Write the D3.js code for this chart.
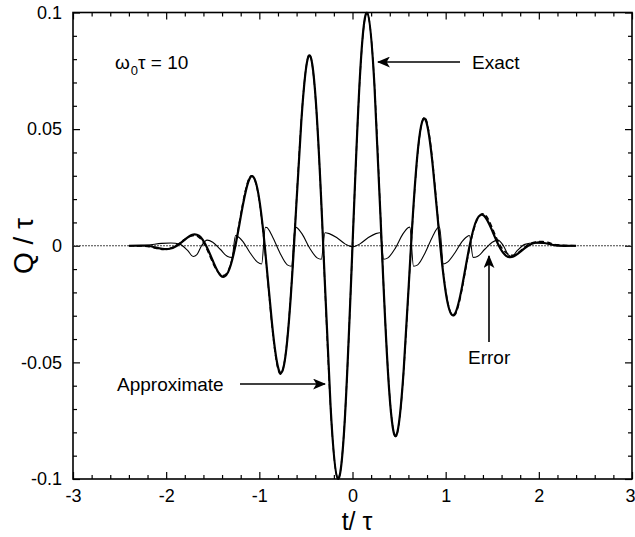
<!DOCTYPE html>
<html><head><meta charset="utf-8">
<script src="https://cdn.jsdelivr.net/npm/d3@7"></script>
<style>
body{margin:0;background:#fff}
text{font-family:"Liberation Sans",Arial,Helvetica,sans-serif;fill:#000}
</style>
</head><body>
<svg id="c" width="635" height="537"></svg>
<script>
// ---- data ----
const xMajorTicks = [-3, -2, -1, 0, 1, 2, 3];
const yMajorTicks = [-0.1, -0.05, 0, 0.05, 0.1];
const xTickLabels = ["-3", "-2", "-1", "0", "1", "2", "3"];
const yTickLabels = ["-0.1", "-0.05", "0", "0.05", "0.1"];

const tExact = [-2.4, -2.199, -2.121, -2.042, -1.963, -1.885, -1.806, -1.728, -1.649, -1.571, -1.492, -1.414, -1.335, -1.257, -1.178, -1.100, -1.021, -0.942, -0.864, -0.785, -0.707, -0.628, -0.550, -0.471, -0.393, -0.314, -0.236, -0.157, -0.079, 0, 0.079, 0.157, 0.236, 0.314, 0.393, 0.471, 0.550, 0.628, 0.707, 0.785, 0.864, 0.942, 1.021, 1.100, 1.178, 1.257, 1.335, 1.414, 1.492, 1.571, 1.649, 1.728, 1.806, 1.885, 1.963, 2.042, 2.121, 2.199, 2.4];
const qExact = [0, 0, -0.0007, -0.0013, -0.0013, 0, 0.0024, 0.0046, 0.0043, 0, -0.0071, -0.0128, -0.0113, 0, 0.0171, 0.0291, 0.0245, 0, -0.0333, -0.0539, -0.0431, 0, 0.0529, 0.0813, 0.0617, 0, -0.0684, -0.0999, -0.0720, 0, 0.0720, 0.0999, 0.0684, 0, -0.0617, -0.0813, -0.0529, 0, 0.0431, 0.0539, 0.0333, 0, -0.0245, -0.0291, -0.0171, 0, 0.0113, 0.0128, 0.0071, 0, -0.0043, -0.0046, -0.0024, 0, 0.0013, 0.0013, 0.0007, 0, 0];
const qApprox = [0, -0.0003, -0.0010, -0.0016, -0.0012, 0.0004, 0.0026, 0.0042, 0.0036, -0.0008, -0.0080, -0.0124, -0.0108, 0.0008, 0.0182, 0.0296, 0.0240, -0.0008, -0.0343, -0.0546, -0.0425, 0.0006, 0.0534, 0.0815, 0.0612, -0.0004, -0.0688, -0.0998, -0.0716, 0, 0.0716, 0.0998, 0.0688, 0.0004, -0.0612, -0.0815, -0.0534, -0.0006, 0.0425, 0.0546, 0.0343, 0.0008, -0.0240, -0.0296, -0.0182, -0.0008, 0.0108, 0.0136, 0.0085, 0.0012, -0.0030, -0.0040, -0.0020, 0.0005, 0.0016, 0.0018, 0.0012, 0.0004, 0];

const tError = [-2.4, -2.2, -2.05, -1.95, -1.85, -1.77, -1.71, -1.67, -1.62, -1.56, -1.50, -1.42, -1.34, -1.295, -1.255, -1.24, -1.18, -1.10, -1.02, -0.975, -0.935, -0.92, -0.86, -0.78, -0.70, -0.655, -0.615, -0.60, -0.54, -0.46, -0.38, -0.335, -0.295, -0.25, -0.17, -0.08, 0, 0.08, 0.17, 0.25, 0.295, 0.335, 0.38, 0.46, 0.54, 0.60, 0.615, 0.655, 0.70, 0.78, 0.86, 0.92, 0.935, 0.975, 1.02, 1.10, 1.18, 1.24, 1.255, 1.295, 1.34, 1.42, 1.50, 1.56, 1.62, 1.67, 1.71, 1.77, 1.85, 1.95, 2.05, 2.2, 2.4];
const qError = [0, 0.0003, 0.0010, 0.0012, 0.0006, -0.0020, -0.0046, -0.0038, 0, 0.0024, 0.0015, -0.0015, -0.0046, -0.0050, 0.0044, 0.0042, 0.0020, -0.0030, -0.0070, -0.0078, 0.0079, 0.0078, 0.0040, -0.0030, -0.0082, -0.0088, 0.0080, 0.0078, 0.0050, -0.0010, -0.0052, -0.0058, 0.0056, 0.0052, 0.0035, 0.0008, -0.0005, 0.0008, 0.0035, 0.0052, 0.0056, -0.0058, -0.0052, -0.0010, 0.0050, 0.0078, 0.0080, -0.0088, -0.0082, -0.0030, 0.0040, 0.0078, 0.0079, -0.0078, -0.0070, -0.0030, 0.0020, 0.0042, 0.0044, -0.0050, -0.0046, -0.0015, 0.0015, 0.0024, 0, -0.0038, -0.0046, -0.0020, 0.0006, 0.0012, 0.0010, 0.0003, 0];

// ---- layout ----
const svg = d3.select("#c");
const L = 73, R = 632, T = 12.5, B = 479;
const x = d3.scaleLinear().domain([-3, 3]).range([L, R]);
const y = d3.scaleLinear().domain([-0.1, 0.1]).range([B, T]);

const xMinor = d3.range(-30, 31, 2).map(d => d / 10).filter(d => !xMajorTicks.includes(d));
const yMinor = d3.range(-10, 11, 1).map(d => d / 100).filter(d => !yMajorTicks.some(v => Math.abs(v - d) < 1e-9));

function styleAxis(g) {
  g.select(".domain").remove();
  g.selectAll("line").attr("stroke", "#000").attr("stroke-width", 1.2);
}
const tickFont = 18;
// bottom
svg.append("g").attr("transform", `translate(0,${B})`)
  .call(d3.axisBottom(x).tickValues(xMajorTicks).tickSize(-7).tickPadding(10)
    .tickFormat((d, i) => xTickLabels[i]))
  .call(styleAxis)
  .call(g => g.selectAll("text").attr("font-size", tickFont).attr("font-family", "Liberation Sans, Arial, sans-serif"))
  .call(g => g.selectAll(".tick").filter(d => d === 3).select("text").attr("text-anchor", "end").attr("dx", 3));
svg.append("g").attr("transform", `translate(0,${B})`)
  .call(d3.axisBottom(x).tickValues(xMinor).tickSize(-4).tickFormat(""))
  .call(styleAxis);
// top
svg.append("g").attr("transform", `translate(0,${T})`)
  .call(d3.axisTop(x).tickValues(xMajorTicks).tickSize(-7).tickFormat(""))
  .call(styleAxis);
svg.append("g").attr("transform", `translate(0,${T})`)
  .call(d3.axisTop(x).tickValues(xMinor).tickSize(-4).tickFormat(""))
  .call(styleAxis);
// left
svg.append("g").attr("transform", `translate(${L},0)`)
  .call(d3.axisLeft(y).tickValues(yMajorTicks).tickSize(-7).tickPadding(11)
    .tickFormat((d, i) => yTickLabels[i]))
  .call(styleAxis)
  .call(g => g.selectAll("text").attr("font-size", tickFont).attr("font-family", "Liberation Sans, Arial, sans-serif"));
svg.append("g").attr("transform", `translate(${L},0)`)
  .call(d3.axisLeft(y).tickValues(yMinor).tickSize(-4).tickFormat(""))
  .call(styleAxis);
// right
svg.append("g").attr("transform", `translate(${R},0)`)
  .call(d3.axisRight(y).tickValues(yMajorTicks).tickSize(-7).tickFormat(""))
  .call(styleAxis);
svg.append("g").attr("transform", `translate(${R},0)`)
  .call(d3.axisRight(y).tickValues(yMinor).tickSize(-4).tickFormat(""))
  .call(styleAxis);

// frame
svg.append("rect").attr("x", L).attr("y", T).attr("width", R - L).attr("height", B - T)
  .attr("fill", "none").attr("stroke", "#000").attr("stroke-width", 1.6);

// zero line (dotted)
svg.append("line").attr("x1", x(-3)).attr("x2", x(3)).attr("y1", y(0)).attr("y2", y(0))
  .attr("stroke", "#444").attr("stroke-width", 1).attr("stroke-dasharray", "2,1");

svg.append("clipPath").attr("id", "pc").append("rect")
  .attr("x", L).attr("y", T - 1).attr("width", R - L).attr("height", B - T + 2);

const plot = svg.append("g").attr("clip-path", "url(#pc)");

const lineNat = d3.line().x(d => x(d[0])).y(d => y(d[1])).curve(d3.curveNatural);
const lineMono = d3.line().x(d => x(d[0])).y(d => y(d[1])).curve(d3.curveMonotoneX);

plot.append("path").attr("d", lineMono(tError.map((t, i) => [t, qError[i]])))
  .attr("fill", "none").attr("stroke", "#000").attr("stroke-width", 1.1);
plot.append("path").attr("d", lineNat(tExact.map((t, i) => [t, qApprox[i]])))
  .attr("fill", "none").attr("stroke", "#000").attr("stroke-width", 1.4).attr("stroke-dasharray", "5,3");
plot.append("path").attr("d", lineNat(tExact.map((t, i) => [t, qExact[i]])))
  .attr("fill", "none").attr("stroke", "#000").attr("stroke-width", 2.2);

// axis titles
svg.append("text").attr("x", 357).attr("y", 530).attr("text-anchor", "middle")
  .attr("font-size", 25).text("t/ τ");
svg.append("text").attr("transform", "translate(33,246) rotate(-90)").attr("text-anchor", "middle")
  .attr("font-size", 28).text("Q / τ");

// annotations
const annFont = 19;
const om = svg.append("text").attr("x", 115).attr("y", 69).attr("font-size", annFont);
om.append("tspan").text("ω");
om.append("tspan").attr("font-size", 13).attr("dy", 6).attr("dx", 1).text("0");
om.append("tspan").attr("dy", -6).text("τ = 10");

svg.append("defs").append("marker").attr("id", "ah").attr("viewBox", "0 0 12 10")
  .attr("refX", 11).attr("refY", 5).attr("markerWidth", 13).attr("markerHeight", 11)
  .attr("markerUnits", "userSpaceOnUse").attr("orient", "auto")
  .append("path").attr("d", "M0,0 L12,5 L0,10 L3,5 Z").attr("fill", "#000");

function arrow(x1, y1, x2, y2) {
  svg.append("line").attr("x1", x1).attr("y1", y1).attr("x2", x2).attr("y2", y2)
    .attr("stroke", "#000").attr("stroke-width", 1.6).attr("marker-end", "url(#ah)");
}
svg.append("text").attr("x", 472).attr("y", 69).attr("font-size", annFont).text("Exact");
arrow(460, 62, 378, 62);
svg.append("text").attr("x", 117).attr("y", 391).attr("font-size", annFont).text("Approximate");
arrow(240, 384, 325, 384);
svg.append("text").attr("x", 468).attr("y", 364).attr("font-size", annFont).text("Error");
arrow(489, 342, 489, 256);
</script>
</body></html>
